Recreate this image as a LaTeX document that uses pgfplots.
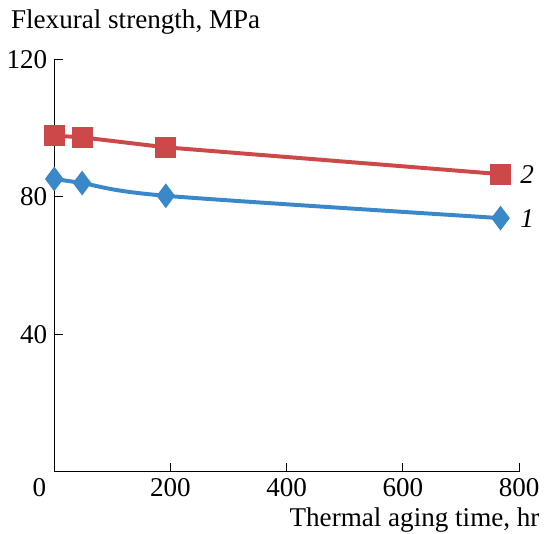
\documentclass[border=0pt]{standalone}
\usepackage{fontspec}
\setmainfont{Liberation Serif}
\usepackage{pgfplots}
\pgfplotsset{compat=1.18}
\definecolor{cred}{RGB}{205,72,72}
\definecolor{cblue}{RGB}{58,136,202}

\begin{document}
\begin{tikzpicture}[font=\fontsize{13.7}{16}\selectfont]
\begin{axis}[
    scale only axis,
    width=235pt, height=208.5pt,
    xmin=0, xmax=800, ymin=0, ymax=120,
    axis lines=left,
    axis line style={-, line width=0.6pt},
    tick align=inside,
    major tick length=4.5pt,
    tick style={line width=0.5pt, black},
    xtick={200,400,600,800},
    ytick={0,40,80,120},
    yticklabels={,40,80,120},
    /pgf/number format/assume math mode=true,
    clip=false,
]
\addplot[cred, line width=2pt, mark=square*, mark size=4.3pt,
    mark options={fill=cred, draw=cred}]
    coordinates {(0,97.8) (48,97.3) (192,94.4) (768,86.6)}
    node[pos=1, anchor=west, inner sep=0pt, xshift=9pt, text=black] {\textit{2}};
\addplot[cblue, line width=2pt, smooth, mark=diamond*, mark size=4.6pt,
    mark options={fill=cblue, draw=cblue}]
    coordinates {(0,85.2) (48,84.0) (192,80.3) (768,73.8)}
    node[pos=1, anchor=west, inner sep=0pt, xshift=9pt, text=black] {\textit{1}};
\node[anchor=north, xshift=-7.5pt] at (rel axis cs:0,0) {0};
\node[anchor=base west, inner sep=0pt, xshift=-22pt, yshift=15.5pt] at (rel axis cs:0,1) {Flexural strength, MPa};
\node[anchor=base east, inner sep=0pt, xshift=10.5pt, yshift=-27.5pt] at (rel axis cs:1,0) {Thermal aging time, hr};
\coordinate (bl) at (rel axis cs:0,0);
\coordinate (tr) at (rel axis cs:1,1);
\end{axis}
\useasboundingbox ([shift={(-27pt,-31pt)}]bl) rectangle ([shift={(11pt,30pt)}]tr);
\end{tikzpicture}
\end{document}
